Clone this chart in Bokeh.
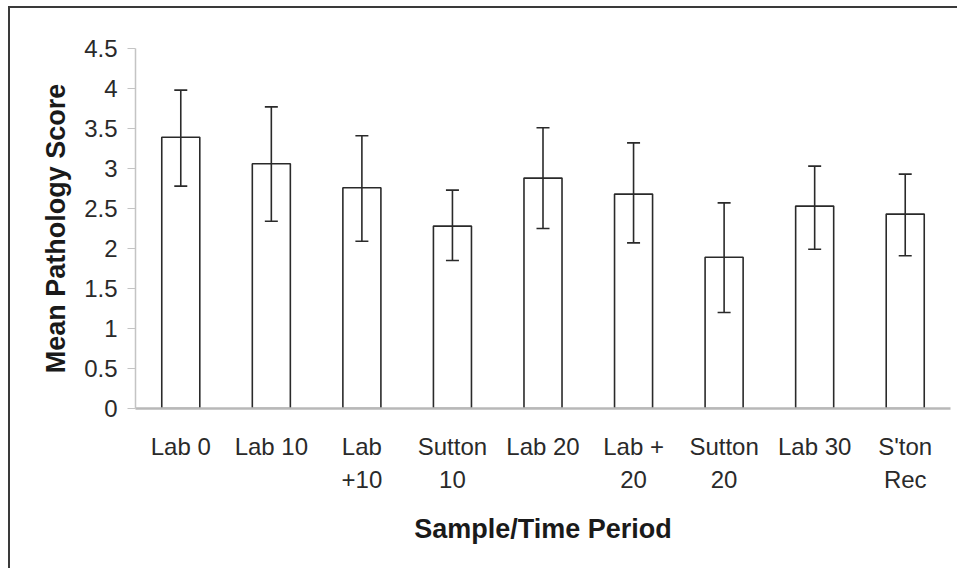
from bokeh.plotting import figure
from bokeh.models import ColumnDataSource, Whisker, TeeHead, FixedTicker, InlineStyleSheet
from bokeh.embed import file_html
from bokeh.resources import INLINE

# ---- data ----
categories = ["Lab 0", "Lab 10", "Lab\n+10", "Sutton\n10", "Lab 20",
              "Lab +\n20", "Sutton\n20", "Lab 30", "S'ton\nRec"]
mean_score = [3.39, 3.06, 2.76, 2.28, 2.88, 2.68, 1.89, 2.53, 2.43]
err_upper = [3.98, 3.77, 3.41, 2.73, 3.51, 3.32, 2.57, 3.03, 2.93]
err_lower = [2.78, 2.34, 2.09, 1.85, 2.25, 2.07, 1.20, 1.99, 1.91]
y_ticks = [0, 0.5, 1, 1.5, 2, 2.5, 3, 3.5, 4, 4.5]
y_tick_labels = ["0", "0.5", "1", "1.5", "2", "2.5", "3", "3.5", "4", "4.5"]

src = ColumnDataSource(dict(cat=categories, mean=mean_score,
                            upper=err_upper, lower=err_lower))

FONT = "Liberation Sans"

p = figure(x_range=categories, y_range=(0, 4.5), width=949, height=562,
           output_backend="svg", toolbar_location=None,
           min_border_left=125, min_border_right=9,
           min_border_top=40, min_border_bottom=162)
p.stylesheets = [InlineStyleSheet(css=":host { margin-left: 8px; margin-top: 6px; border-left: 2px solid #3a3a3a; border-top: 2px solid #3a3a3a; }")]

p.x_range.range_padding = 0
p.outline_line_color = None
p.xgrid.grid_line_color = None
p.ygrid.grid_line_color = None
p.background_fill_color = "white"
p.border_fill_color = "white"

p.vbar(x="cat", top="mean", bottom=0, width=0.42, source=src,
       fill_color="white", line_color="#2a2a2a", line_width=1.6)

wh = Whisker(base="cat", upper="upper", lower="lower", source=src,
             line_color="#2a2a2a", line_width=1.6, level="overlay",
             upper_head=TeeHead(size=13, line_color="#2a2a2a", line_width=1.6),
             lower_head=TeeHead(size=13, line_color="#2a2a2a", line_width=1.6))
p.add_layout(wh)

# y axis
yax = p.yaxis[0]
yax.ticker = FixedTicker(ticks=y_ticks)
yax.major_label_overrides = {t: l for t, l in zip(y_ticks, y_tick_labels)}
yax.axis_line_color = "#c4c4c4"
yax.axis_line_width = 1.5
yax.major_tick_line_color = "#c4c4c4"
yax.major_tick_out = 8
yax.major_tick_in = 0
yax.minor_tick_line_color = None
yax.major_label_text_font = FONT
yax.major_label_text_font_size = "24px"
yax.major_label_text_color = "#2a2a2a"
yax.major_label_standoff = 10
yax.axis_label = "Mean Pathology Score"
yax.axis_label_text_font = FONT
yax.axis_label_text_font_size = "27px"
yax.axis_label_text_font_style = "bold"
yax.axis_label_text_color = "#1a1a1a"
yax.axis_label_standoff = 10

# x axis
xax = p.xaxis[0]
xax.axis_line_color = "#b8b8b8"
xax.axis_line_width = 2.5
xax.major_tick_line_color = None
xax.minor_tick_line_color = None
xax.major_label_text_font = FONT
xax.major_label_text_font_size = "24px"
xax.major_label_text_color = "#2a2a2a"
xax.major_label_standoff = 18
xax.major_label_text_line_height = 1.25
xax.axis_label = "Sample/Time Period"
xax.axis_label_text_font = FONT
xax.axis_label_text_font_size = "27px"
xax.axis_label_text_font_style = "bold"
xax.axis_label_text_color = "#1a1a1a"
xax.axis_label_standoff = 18

open("out.html", "w").write(file_html(p, INLINE))
